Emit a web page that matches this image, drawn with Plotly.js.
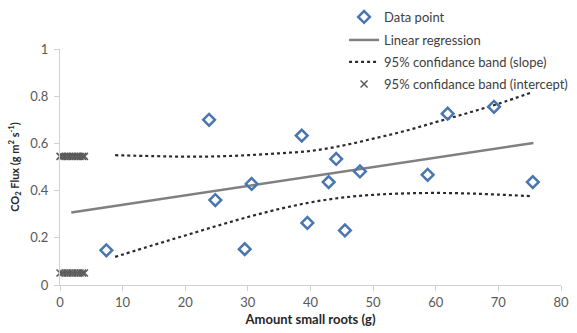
<!DOCTYPE html>
<html>
<head>
<meta charset="utf-8">
<script src="https://cdn.plot.ly/plotly-3.0.1.min.js"></script>
<style>html,body{margin:0;padding:0;background:#fff;}#chart{width:577px;height:333px;}</style>
</head>
<body>
<div id="chart"></div>
<script>
// Data points
var pointX = [7.4, 23.8, 24.8, 29.5, 30.6, 38.6, 39.5, 42.9, 44.1, 45.5, 47.9, 58.7, 61.9, 69.3, 75.5];
var pointY = [0.147, 0.700, 0.360, 0.152, 0.428, 0.633, 0.263, 0.436, 0.534, 0.231, 0.481, 0.467, 0.726, 0.755, 0.436];

// Linear regression
var regX = [1.8, 75.6];
var regY = [0.307, 0.602];

// 95% confidence band (slope)
var bandX = [8.8, 15, 20, 25, 30, 35, 40, 45, 50, 55, 60, 65, 70, 75.5];
var upperY = [0.550, 0.546, 0.544, 0.545, 0.550, 0.558, 0.568, 0.590, 0.620, 0.652, 0.690, 0.728, 0.768, 0.818];
var lowerY = [0.119, 0.170, 0.210, 0.250, 0.288, 0.322, 0.350, 0.370, 0.382, 0.388, 0.390, 0.388, 0.383, 0.376];

// 95% confidence band (intercept)
var interX = [0, 0.4, 0.8, 1.2, 1.6, 2.0, 2.4, 2.8, 3.2, 3.6, 3.9, 0, 0.4, 0.8, 1.2, 1.6, 2.0, 2.4, 2.8, 3.2, 3.6, 3.9];
var interY = [0.545, 0.545, 0.545, 0.545, 0.545, 0.545, 0.545, 0.545, 0.545, 0.545, 0.545, 0.051, 0.051, 0.051, 0.051, 0.051, 0.051, 0.051, 0.051, 0.051, 0.051, 0.051];

var legendNames = ["Data point", "Linear regression", "95% confidance band (slope)", "95% confidance band (intercept)"];

var traces = [
  {x: interX, y: interY, type: 'scatter', mode: 'markers', name: legendNames[3], legend: 'legend4',
   cliponaxis: false,
   marker: {symbol: 'x-thin-open', size: 7, line: {color: '#5a5a5a', width: 1.5}, color: '#5a5a5a'}},
  {x: bandX, y: upperY, type: 'scatter', mode: 'lines', name: legendNames[2], legend: 'legend3',
   line: {color: '#2b2b2b', width: 2.2, dash: 'dot', shape: 'spline'}},
  {x: bandX, y: lowerY, type: 'scatter', mode: 'lines', name: legendNames[2], showlegend: false,
   line: {color: '#2b2b2b', width: 2.2, dash: 'dot', shape: 'spline'}},
  {x: regX, y: regY, type: 'scatter', mode: 'lines', name: legendNames[1], legend: 'legend2',
   line: {color: '#808080', width: 2.5}},
  {x: pointX, y: pointY, type: 'scatter', mode: 'markers', name: legendNames[0], legend: 'legend',
   marker: {symbol: 'diamond-open', size: 9, line: {color: '#4a76b0', width: 2.5}, color: '#4a76b0'}}
];

var legFont = {family: 'Lato, "Open Sans", sans-serif', size: 13, color: '#404040'};
function leg(yp) {
  return {x: 0.567, xanchor: 'left', y: yp, yanchor: 'middle', font: legFont,
          bgcolor: 'rgba(0,0,0,0)', borderwidth: 0, itemwidth: 30, tracegroupgap: 0};
}

var layout = {
  width: 577, height: 333,
  margin: {l: 60, r: 16, t: 49, b: 48, autoexpand: false},
  paper_bgcolor: '#ffffff', plot_bgcolor: '#ffffff',
  showlegend: true,
  legend: leg((285 - 17) / 236),
  legend2: leg((285 - 40) / 236),
  legend3: leg((285 - 62) / 236),
  legend4: leg((285 - 84) / 236),
  font: {family: 'Lato, "Open Sans", sans-serif', color: '#595959'},
  xaxis: {
    range: [0, 80], dtick: 10, tick0: 0,
    showgrid: false, zeroline: false,
    showline: true, linecolor: '#d0d0d0', linewidth: 1,
    ticks: 'outside', ticklen: 5, tickcolor: '#d0d0d0',
    tickfont: {size: 13, color: '#595959'},
    title: {text: '<b>Amount small roots (g)</b>', font: {size: 13, color: '#262626'}, standoff: 6}
  },
  yaxis: {
    range: [0, 1], dtick: 0.2, tick0: 0,
    showgrid: false, zeroline: false,
    showline: true, linecolor: '#d0d0d0', linewidth: 1,
    ticks: 'outside', ticklen: 5, tickcolor: '#d0d0d0',
    ticklabelstandoff: 3,
    tickfont: {size: 13, color: '#595959'},
    title: {text: '<b>CO<sub>2</sub> Flux (g m<sup>2</sup> s<sup>-1</sup>)</b>', font: {size: 11, color: '#262626'}, standoff: 8}
  }
};

Plotly.newPlot('chart', traces, layout, {displayModeBar: false, staticPlot: true});
</script>
</body>
</html>
